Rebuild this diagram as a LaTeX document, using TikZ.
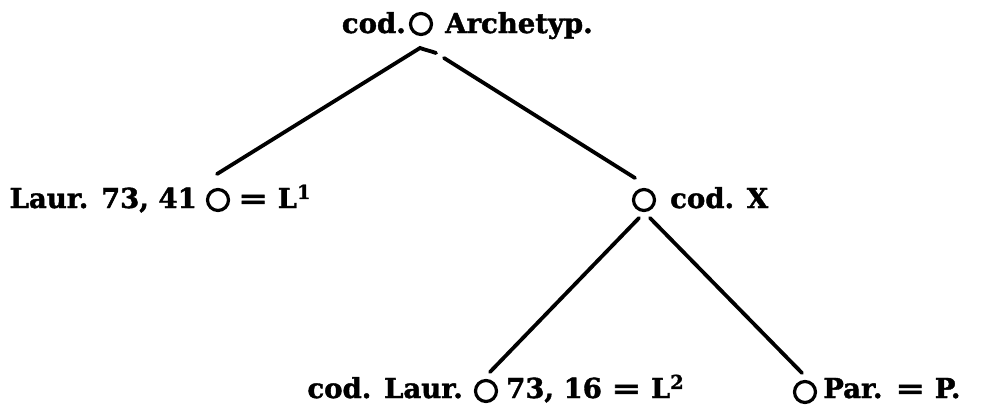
\documentclass[tikz,border=0pt]{standalone}
\usepackage{graphicx}
\usepackage{fontspec}
\setmainfont{DejaVu Serif}
\newfontface\heavy{DejaVu Serif Bold}[FakeBold=1.5]
\newcommand{\wideeq}{\scalebox{1.3}[1]{=}\ }
\begin{document}
\begin{tikzpicture}[x=1pt,y=-1pt,
  ms/.style={circle,draw,line width=3.2pt,minimum size=21pt,inner sep=0pt},
  lbl/.style={inner sep=0pt,font=\fontsize{27.5}{32}\selectfont\heavy},
  edge/.style={line width=3.8pt,line cap=round}]
\useasboundingbox (0,0) rectangle (990,415);
% circles
\node[ms] (arch) at (421,24) {};
\node[ms] (l1) at (218,200) {};
\node[ms] (x) at (644,200) {};
\node[ms] (l2) at (486,391) {};
\node[ms] (p) at (805,392) {};
% labels
\node[lbl,anchor=base east] (t1) at (406,33) {cod.};
\node[lbl,anchor=base west] (t2) at (445,33) {Archetyp.};
\node[lbl,anchor=base east] (t3) at (197,208) {Laur. 73, 41};
\node[lbl,anchor=base west] (t4) at (238,208) {\wideeq L\textsuperscript{1}};
\node[lbl,anchor=base west] (t5) at (670,208) {cod. X};
\node[lbl,anchor=base east] (t6) at (463,398) {cod. Laur.};
\node[lbl,anchor=base west] (t7) at (506,398) {73, 16 \wideeq L\textsuperscript{2}};
\node[lbl,anchor=base west] (t8) at (823,398) {Par. \wideeq P.};
% connector end points
\coordinate (a1) at (420,48);
\coordinate (a1b) at (436,53);
\coordinate (a2) at (444,58);
\coordinate (b1) at (217,174);
\coordinate (b2) at (635,178);
\coordinate (x1) at (639,218);
\coordinate (x2) at (650,218);
\coordinate (c1) at (490,372);
\coordinate (c2) at (802,373);
\draw[edge] (b1) -- (a1) to[out=-20,in=160] (a1b);
\draw[edge] (a2) -- (b2);
\draw[edge] (x1) -- (c1);
\draw[edge] (x2) -- (c2);
\end{tikzpicture}
\end{document}
